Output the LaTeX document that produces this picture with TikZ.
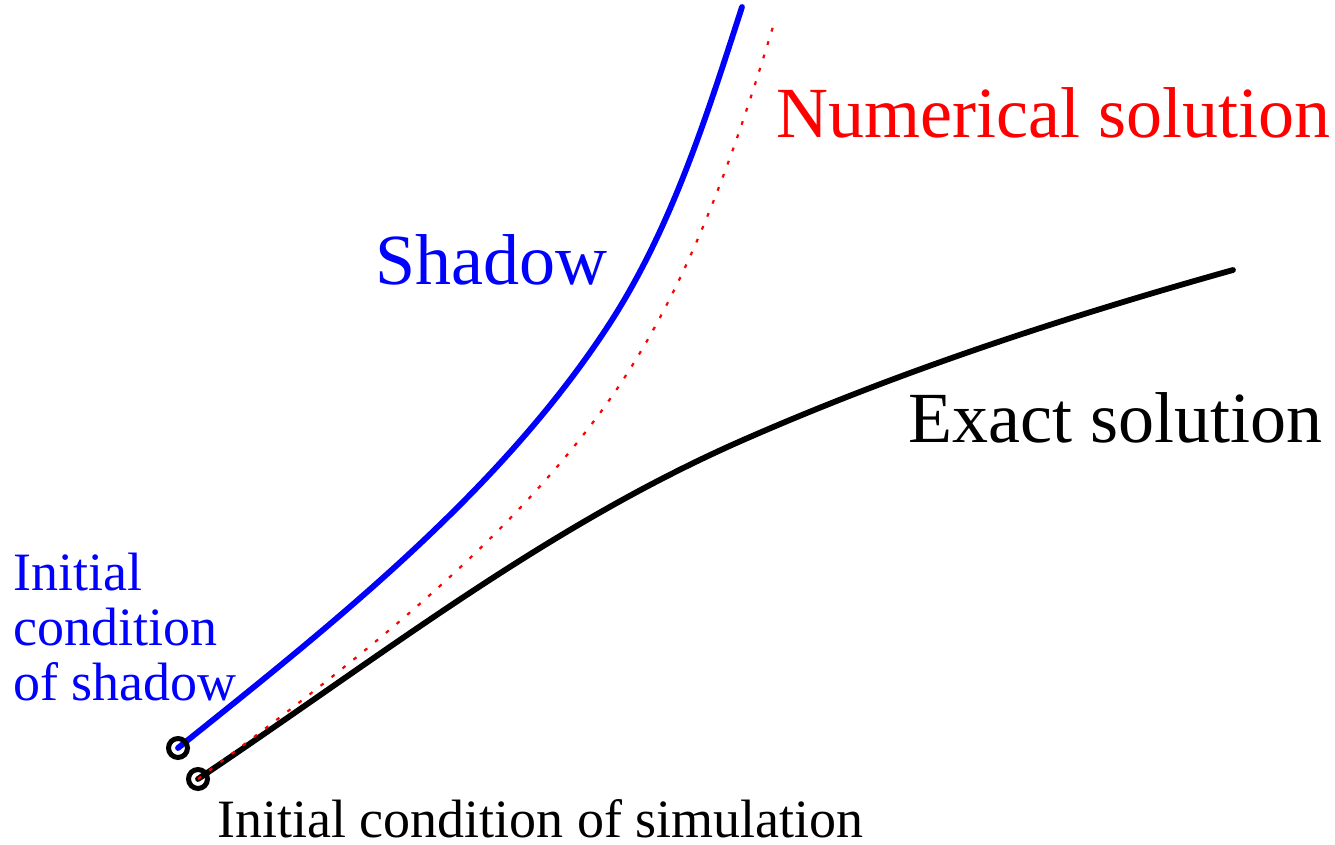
\documentclass[tikz,border=0pt]{standalone}
\usepackage{fontspec}
\setmainfont{Liberation Serif}
\begin{document}
\begin{tikzpicture}[x=0.5pt,y=-0.5pt,
  curve/.style={line width=2.9pt,line cap=round,line join=round},
  numcurve/.style={red,line width=1.1pt,dash pattern=on 1.9pt off 5.1pt},
  icmark/.style={circle,draw=black,line width=2.5pt,minimum size=9.5pt,inner sep=0pt},
  biglabel/.style={anchor=base west,inner sep=0pt,font=\fontsize{36}{40}\selectfont},
  smalllabel/.style={anchor=base west,inner sep=0pt,font=\fontsize{27}{27.5}\selectfont}]
\useasboundingbox (0,0) rectangle (1335,845);
% initial condition points
\coordinate (s0) at (178,748);
\coordinate (e0) at (198,779);
% curves
\draw[curve,blue] (s0) .. controls (334,623) and (501,491) .. (610,323)
  .. controls (672,227) and (707,115) .. (742,7);
\draw[curve,black] (e0) .. controls (390,650) and (551,523) .. (750,437)
  .. controls (906,369) and (1069,316) .. (1233,270);
\draw[numcurve] (e0) .. controls (340,673) and (490,560) .. (597,417)
  .. controls (684,301) and (733,159) .. (775,20);
% initial conditions
\node[icmark] (ics) at (s0) {};
\node[icmark] (icsim) at (e0) {};
% labels
\node[biglabel,red] (num) at (776,138) {Numerical solution};
\node[biglabel,blue] (shadow) at (375,285) {Shadow};
\node[biglabel] (exact) at (908,443) {Exact solution};
\node[smalllabel,blue,align=left,anchor=north west] (icslab) at (13,553) {Initial\\condition\\of shadow};
\node[smalllabel,text depth=0pt] (icsimlab) at (217,837) {Initial condition of simulation};
\end{tikzpicture}
\end{document}
